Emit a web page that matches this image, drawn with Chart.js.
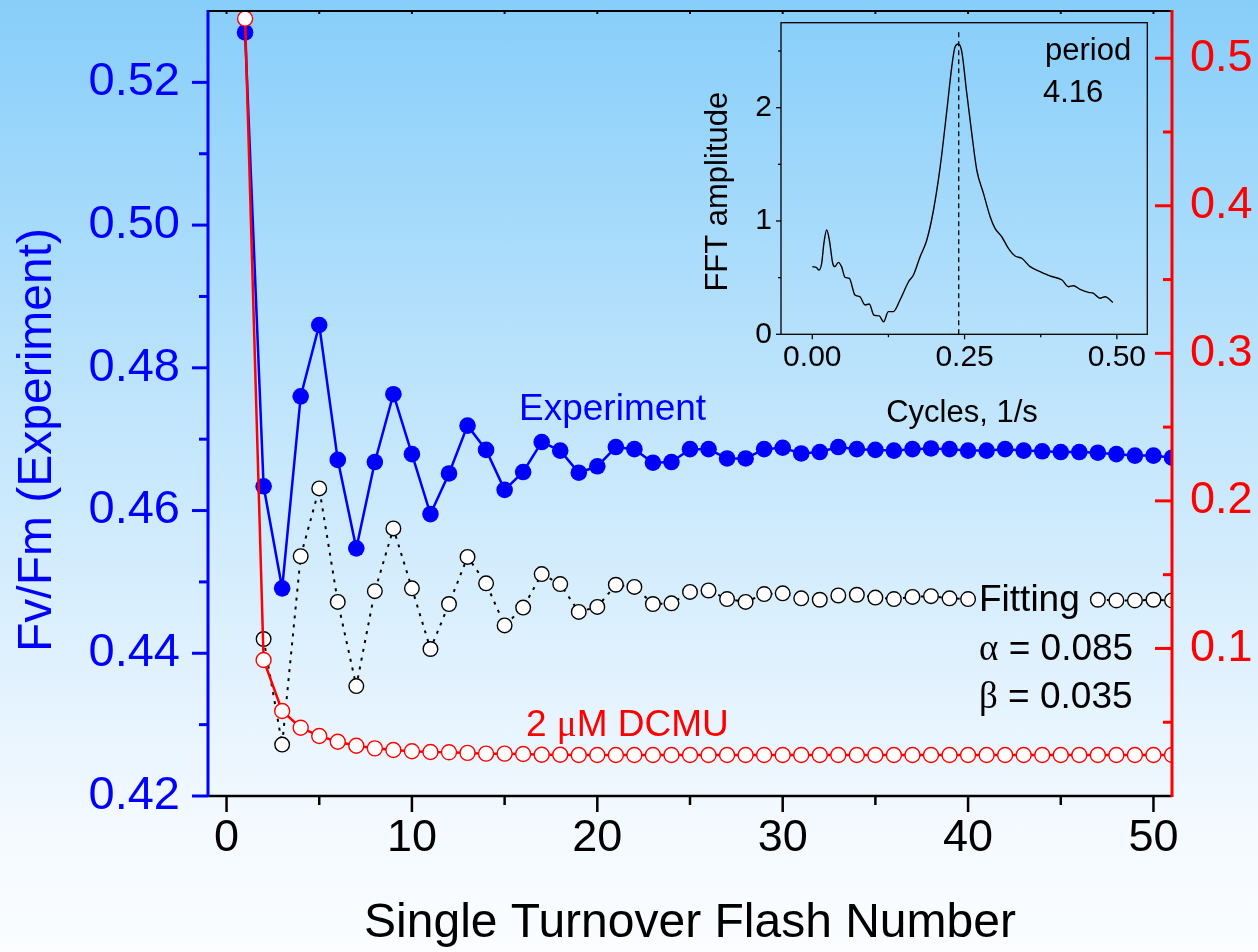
<!DOCTYPE html>
<html>
<head>
<meta charset="utf-8">
<script src="https://cdn.jsdelivr.net/npm/chart.js@4.4.1/dist/chart.umd.min.js"></script>
<style>
html,body{margin:0;padding:0;width:1258px;height:952px;overflow:hidden;
  background:linear-gradient(to bottom,#87CEFA 0%,#C3E6FC 45%,#F3F9FF 86%,#FBFDFF 100%);}
#wrap{position:relative;width:1258px;height:952px;}
#main{position:absolute;left:0;top:0;}
#inset{position:absolute;left:690px;top:10px;}
</style>
</head>
<body>
<div id="wrap">
<canvas id="main" width="1258" height="952"></canvas>
<canvas id="inset" width="480" height="440"></canvas>
</div>
<script>
// ---------------- data ----------------
const flashNumber = [1,2,3,4,5,6,7,8,9,10,11,12,13,14,15,16,17,18,19,20,21,22,23,24,25,26,27,28,29,30,31,32,33,34,35,36,37,38,39,40,41,42,43,44,45,46,47,48,49,50,51];

const fvfmExperiment = [0.5270,0.4634,0.4491,0.4760,0.4860,0.4671,0.4547,0.4668,0.4763,0.4679,
  0.4595,0.4652,0.4719,0.4685,0.4629,0.4654,0.4696,0.4684,0.4653,0.4662,
  0.4689,0.4686,0.4667,0.4668,0.4686,0.4686,0.4673,0.4673,0.4686,0.4688,
  0.4680,0.4682,0.4689,0.4686,0.4685,0.4684,0.4686,0.4687,0.4686,0.4684,
  0.4684,0.4686,0.4684,0.4683,0.4682,0.4682,0.4681,0.4679,0.4677,0.4677,0.4674];

const fvfmFitting = [null,0.4420,0.4272,0.4536,0.4631,0.4472,0.4354,0.4487,0.4575,0.4491,
  0.4406,0.4469,0.4535,0.4498,0.4439,0.4464,0.4511,0.4497,0.4458,0.4465,
  0.4496,0.4493,0.4469,0.4470,0.4486,0.4488,0.4476,0.4472,0.4483,0.4484,
  0.4477,0.4475,0.4481,0.4482,0.4478,0.4476,0.4479,0.4480,0.4477,0.4476,
  null,null,null,null,null,null,0.4475,0.4474,0.4474,0.4475,0.4474];

const fvfmDCMU = [0.5268,0.0922,0.0576,0.0463,0.0407,0.0368,0.0341,0.0323,0.0312,0.0303,
  0.0298,0.0296,0.0292,0.0287,0.0287,0.0285,0.0280,0.0280,0.0278,0.0278,
  0.0278,0.0278,0.0278,0.0278,0.0278,0.0278,0.0278,0.0278,0.0278,0.0278,
  0.0278,0.0278,0.0278,0.0278,0.0278,0.0278,0.0278,0.0278,0.0278,0.0278,
  0.0278,0.0278,0.0278,0.0278,0.0278,0.0278,0.0278,0.0278,0.0278,0.0278,0.0278];

const xTicks = [0,10,20,30,40,50];
const xMinor = [5,15,25,35,45];
const leftTicks = [0.42,0.44,0.46,0.48,0.50,0.52];
const leftMinor = [0.43,0.45,0.47,0.49,0.51];
const rightTicks = [0.1,0.2,0.3,0.4,0.5];
const rightMinor = [0.05,0.15,0.25,0.35,0.45];

// inset FFT
const fftFreq = [0.000,0.007,0.011,0.0154,0.019,0.0236,0.028,0.0335,0.037,0.0427,0.048,0.0537,0.0608,0.070,0.078,0.0866,0.0936,0.101,0.110,0.117,
  0.1249,0.133,0.144,0.158,0.166,0.177,0.188,0.199,0.210,0.221,0.229,0.2344,0.240,0.2454,0.2536,0.2618,0.270,0.281,0.292,0.300,
  0.311,0.322,0.333,0.344,0.3576,0.374,0.390,0.410,0.4205,0.4288,0.4397,0.4534,0.4617,0.4725,0.4808,0.4934];
const fftAmp = [0.597,0.588,0.567,0.627,0.803,0.920,0.832,0.627,0.597,0.635,0.597,0.503,0.494,0.347,0.332,0.259,0.267,0.170,0.162,0.111,
  0.200,0.200,0.303,0.464,0.523,0.685,0.832,1.097,1.479,1.980,2.362,2.538,2.562,2.494,2.127,1.774,1.450,1.244,1.038,0.935,
  0.861,0.759,0.691,0.671,0.597,0.553,0.515,0.479,0.420,0.429,0.397,0.370,0.362,0.318,0.332,0.282];
const insetXTicks = [0,0.25,0.5];
const insetXMinor = [0.125,0.375];
const insetYTicks = [0,1,2];
const insetYMinor = [0.5,1.5,2.5];
const periodValue = 4.16;
const periodLineTop = 2.67;

// ---------------- helpers ----------------
const FONT = '"Liberation Sans", Arial, Helvetica, sans-serif';
const SERIF = '"Liberation Serif", "Times New Roman", serif';
const BLUE = '#0000FF', RED = '#FF0000';
const NOGRID = { display:false, drawTicks:false };
function pts(xs, ys){ return xs.map((x,i)=>({x:x, y:ys[i]})); }
function setTicks(values){ return function(scale){ scale.ticks = values.map(v=>({value:v})); }; }
function fixBox(w, h){
  return function(s){
    if (w !== null) s.width = w;
    if (h !== null) s.height = h;
    s.paddingTop = 0; s.paddingBottom = 0; s.paddingLeft = 0; s.paddingRight = 0;
  };
}
function seg(ctx,x1,y1,x2,y2){ ctx.beginPath(); ctx.moveTo(x1,y1); ctx.lineTo(x2,y2); ctx.stroke(); }

// ---------------- main chart ----------------
const mainAxes = {
  id:'mainAxes',
  afterDraw(chart){
    const ctx = chart.ctx, a = chart.chartArea;
    const x = chart.scales.x, y = chart.scales.y, y2 = chart.scales.y2;
    ctx.save();
    ctx.lineCap = 'butt';
    // top frame
    ctx.strokeStyle = '#000'; ctx.lineWidth = 2;
    seg(ctx, a.left, a.top, a.right, a.top);
    xTicks.concat(xMinor).forEach(v=>{ const p = x.getPixelForValue(v); seg(ctx,p,a.top,p,a.top+3); });
    // bottom axis
    ctx.lineWidth = 2.5;
    seg(ctx, a.left, a.bottom, a.right, a.bottom);
    xTicks.forEach(v=>{ const p = x.getPixelForValue(v); seg(ctx,p,a.bottom,p,a.bottom+16); });
    xMinor.forEach(v=>{ const p = x.getPixelForValue(v); seg(ctx,p,a.bottom,p,a.bottom+9); });
    // left axis
    ctx.strokeStyle = BLUE; ctx.lineWidth = 3;
    seg(ctx, a.left, a.top-1, a.left, a.bottom+1);
    leftTicks.forEach(v=>{ const p = y.getPixelForValue(v); seg(ctx,a.left,p,a.left-16,p); });
    leftMinor.forEach(v=>{ const p = y.getPixelForValue(v); seg(ctx,a.left,p,a.left-9,p); });
    // right axis (ticks inward)
    ctx.strokeStyle = RED; ctx.lineWidth = 3;
    seg(ctx, a.right, a.top-1, a.right, a.bottom+1);
    rightTicks.forEach(v=>{ const p = y2.getPixelForValue(v); seg(ctx,a.right,p,a.right-17,p); });
    rightMinor.forEach(v=>{ const p = y2.getPixelForValue(v); seg(ctx,a.right,p,a.right-9,p); });
    ctx.restore();
  }
};

const mainText = {
  id:'mainText',
  afterDraw(chart){
    const ctx = chart.ctx;
    ctx.save();
    ctx.textBaseline = 'alphabetic';
    // axis titles
    ctx.fillStyle = BLUE;
    ctx.font = '48px ' + FONT;
    ctx.save();
    ctx.translate(51, 440);
    ctx.rotate(-Math.PI/2);
    ctx.textAlign = 'center';
    ctx.fillText('Fv/Fm (Experiment)', 0, 0);
    ctx.restore();
    ctx.fillStyle = '#000';
    ctx.textAlign = 'center';
    ctx.fillText('Single Turnover Flash Number', 690, 937);
    // annotations
    ctx.textAlign = 'left';
    ctx.font = '37px ' + FONT;
    ctx.fillStyle = BLUE;
    ctx.fillText('Experiment', 519, 420);
    ctx.fillStyle = RED;
    let xx = 526;
    ctx.fillText('2 ', xx, 736); xx += ctx.measureText('2 ').width;
    ctx.font = '37px ' + SERIF;
    ctx.fillText('\u03BC', xx, 736); xx += ctx.measureText('\u03BC').width;
    ctx.font = '37px ' + FONT;
    ctx.fillText('M DCMU', xx, 736);
    ctx.fillStyle = '#000';
    ctx.fillText('Fitting', 979, 611);
    [['\u03B1',' = 0.085',660],['\u03B2',' = 0.035',708]].forEach(r=>{
      ctx.font = '37px ' + SERIF;
      ctx.fillText(r[0], 979, r[2]);
      const w = ctx.measureText(r[0]).width;
      ctx.font = '37px ' + FONT;
      ctx.fillText(r[1], 979 + w, r[2]);
    });
    ctx.restore();
  }
};

new Chart(document.getElementById('main'), {
  type:'line',
  data:{ datasets:[
    { label:'Experiment', data: pts(flashNumber, fvfmExperiment), yAxisID:'y',
      borderColor:BLUE, borderWidth:2.5, pointRadius:8.3, pointBackgroundColor:BLUE,
      pointBorderColor:BLUE, pointBorderWidth:0, order:3, clip:0 },
    { label:'Fitting', data: pts(flashNumber, fvfmFitting), yAxisID:'y',
      borderColor:'#000', borderWidth:2, borderDash:[3,6], pointRadius:7.3,
      pointBackgroundColor:'#FFFFFF', pointBorderColor:'#000', pointBorderWidth:1.4,
      spanGaps:false, order:2, clip:0 },
    { label:'2 \u03BCM DCMU', data: pts(flashNumber, fvfmDCMU), yAxisID:'y2',
      borderColor:RED, borderWidth:2.5, pointRadius:7.5, pointBackgroundColor:'#FFFFFF',
      pointBorderColor:RED, pointBorderWidth:1.4, order:1, clip:0 }
  ]},
  options:{
    responsive:false, animation:false, events:[],
    layout:{ padding:{ top:11, left:0, right:0, bottom:0 } },
    plugins:{ legend:{display:false}, tooltip:{enabled:false} },
    scales:{
      x:{ type:'linear', position:'bottom', min:-1, max:51,
          grid:NOGRID, border:{display:false},
          afterBuildTicks: setTicks(xTicks),
          afterFit: fixBox(null, 156),
          ticks:{ font:{family:FONT, size:45}, color:'#000', padding:16, maxRotation:0, autoSkip:false,
                  callback:(v)=>String(v) } },
      y:{ type:'linear', position:'left', min:0.42, max:0.53,
          grid:NOGRID, border:{display:false},
          afterBuildTicks: setTicks(leftTicks),
          afterFit: fixBox(208, null),
          ticks:{ font:{family:FONT, size:47}, color:BLUE, padding:28, autoSkip:false,
                  callback:(v)=>Number(v).toFixed(2) } },
      y2:{ type:'linear', position:'right', min:0, max:0.532,
          grid:NOGRID, border:{display:false},
          afterBuildTicks: setTicks(rightTicks),
          afterFit: fixBox(86, null),
          ticks:{ font:{family:FONT, size:45}, color:RED, padding:18, autoSkip:false,
                  callback:(v)=>Number(v).toFixed(1) } }
    }
  },
  plugins:[mainAxes, mainText]
});

// ---------------- inset chart ----------------
const insetDecor = {
  id:'insetDecor',
  afterDraw(chart){
    const ctx = chart.ctx, a = chart.chartArea;
    const x = chart.scales.x, y = chart.scales.y;
    ctx.save();
    ctx.strokeStyle = '#000'; ctx.lineWidth = 1.3;
    ctx.strokeRect(a.left, a.top, a.right-a.left, a.bottom-a.top);
    insetXTicks.forEach(v=>{ const p = x.getPixelForValue(v); seg(ctx,p,a.bottom,p,a.bottom+5); });
    insetXMinor.forEach(v=>{ const p = x.getPixelForValue(v); seg(ctx,p,a.bottom,p,a.bottom+3); });
    insetYTicks.forEach(v=>{ const p = y.getPixelForValue(v); seg(ctx,a.left,p,a.left-5,p); });
    insetYMinor.forEach(v=>{ const p = y.getPixelForValue(v); seg(ctx,a.left,p,a.left-3,p); });
    ctx.fillStyle = '#000';
    ctx.font = '31px ' + FONT;
    ctx.textBaseline = 'alphabetic';
    ctx.save();
    ctx.translate(37, 181.7);
    ctx.rotate(-Math.PI/2);
    ctx.textAlign = 'center';
    ctx.fillText('FFT amplitude', 0, 0);
    ctx.restore();
    ctx.textAlign = 'center';
    ctx.fillText('Cycles, 1/s', 272, 412);
    ctx.textAlign = 'left';
    ctx.fillText('period', 355, 50);
    ctx.fillText(String(periodValue), 353, 91.7);
    ctx.restore();
  }
};

const periodFreq = 1/periodValue;
new Chart(document.getElementById('inset'), {
  type:'line',
  data:{ datasets:[
    { data: pts(fftFreq, fftAmp), borderColor:'#000', borderWidth:1.4, pointRadius:0, tension:0.3,
      cubicInterpolationMode:'monotone' },
    { data: [{x:periodFreq, y:0},{x:periodFreq, y:periodLineTop}], borderColor:'#000', borderWidth:1.3,
      borderDash:[5,4], pointRadius:0 }
  ]},
  options:{
    responsive:false, animation:false, events:[],
    layout:{ padding:{ top:12.7, right:22.7, left:0, bottom:0 } },
    plugins:{ legend:{display:false}, tooltip:{enabled:false} },
    scales:{
      x:{ type:'linear', min:-0.0514, max:0.55,
          grid:NOGRID, border:{display:false},
          afterBuildTicks: setTicks(insetXTicks),
          afterFit: fixBox(null, 115.7),
          ticks:{ font:{family:FONT, size:30}, color:'#000', padding:5, maxRotation:0, autoSkip:false,
                  callback:(v)=>Number(v).toFixed(2) } },
      y:{ type:'linear', min:0, max:2.75,
          grid:NOGRID, border:{display:false},
          afterBuildTicks: setTicks(insetYTicks),
          afterFit: fixBox(91, null),
          ticks:{ font:{family:FONT, size:30}, color:'#000', padding:9, autoSkip:false,
                  callback:(v)=>String(v) } }
    }
  },
  plugins:[insetDecor]
});
</script>
</body>
</html>
